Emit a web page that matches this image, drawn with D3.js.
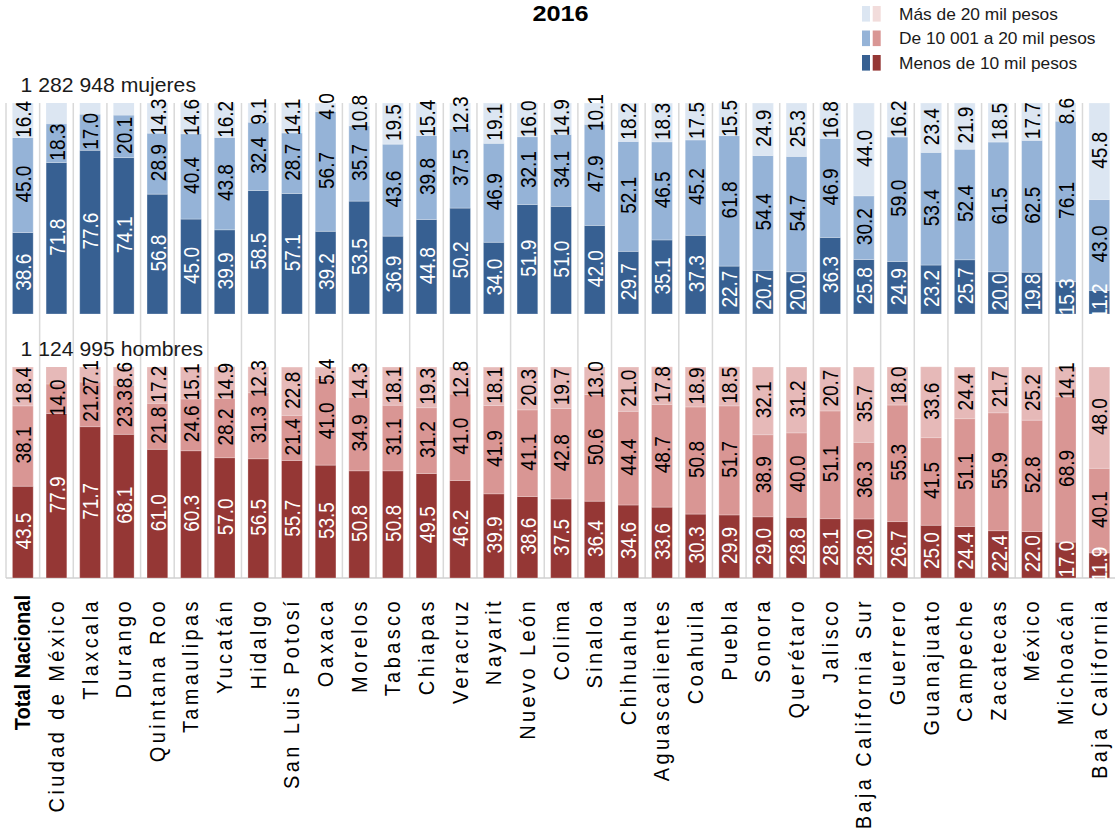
<!DOCTYPE html>
<html><head><meta charset="utf-8">
<script src="https://cdn.jsdelivr.net/npm/d3@7"></script>
<style>
body{margin:0;background:#fff}
svg{display:block;font-family:"Liberation Sans",Arial,sans-serif}
</style>
</head><body>
<svg id="c" width="1115" height="830"></svg>
<script>
const title = "2016";
const categories = ["Total Nacional","Ciudad de México","Tlaxcala","Durango","Quintana Roo","Tamaulipas","Yucatán","Hidalgo","San Luis Potosí","Oaxaca","Morelos","Tabasco","Chiapas","Veracruz","Nayarit","Nuevo León","Colima","Sinaloa","Chihuahua","Aguascalientes","Coahuila","Puebla","Sonora","Querétaro","Jalisco","Baja California Sur","Guerrero","Guanajuato","Campeche","Zacatecas","México","Michoacán","Baja California"];
// Mujeres
const mujeresMenos10 = [38.6,71.8,77.6,74.1,56.8,45.0,39.9,58.5,57.1,39.2,53.5,36.9,44.8,50.2,34.0,51.9,51.0,42.0,29.7,35.1,37.3,22.7,20.7,20.0,36.3,25.8,24.9,23.2,25.7,20.0,19.8,15.3,11.2];
const mujeres10a20 = [45.0,18.3,17.0,20.1,28.9,40.4,43.8,32.4,28.7,56.7,35.7,43.6,39.8,37.5,46.9,32.1,34.1,47.9,52.1,46.5,45.2,61.8,54.4,54.7,46.9,30.2,59.0,53.4,52.4,61.5,62.5,76.1,43.0];
const mujeresMas20 = [16.4,null,null,null,14.3,14.6,16.2,9.1,14.1,4.0,10.8,19.5,15.4,12.3,19.1,16.0,14.9,10.1,18.2,18.3,17.5,15.5,24.9,25.3,16.8,44.0,16.2,23.4,21.9,18.5,17.7,8.6,45.8];
// Hombres
const hombresMenos10 = [43.5,77.9,71.7,68.1,61.0,60.3,57.0,56.5,55.7,53.5,50.8,50.8,49.5,46.2,39.9,38.6,37.5,36.4,34.6,33.6,30.3,29.9,29.0,28.8,28.1,28.0,26.7,25.0,24.4,22.4,22.0,17.0,11.9];
const hombres10a20 = [38.1,14.0,21.2,23.3,21.8,24.6,28.2,31.3,21.4,41.0,34.9,31.1,31.2,41.0,41.9,41.1,42.8,50.6,44.4,48.7,50.8,51.7,38.9,40.0,51.1,36.3,55.3,41.5,51.1,55.9,52.8,68.9,40.1];
const hombresMas20 = [18.4,null,7.1,8.6,17.2,15.1,14.9,12.3,22.8,5.4,14.3,18.1,19.3,12.8,18.1,20.3,19.7,13.0,21.0,17.8,18.9,18.5,32.1,31.2,20.7,35.7,18.0,33.6,24.4,21.7,25.2,14.1,48.0];
const legendLabels = ["Más de 20 mil pesos","De 10 001 a 20 mil pesos","Menos de 10 mil pesos"];
const panelTitles = ["1 282 948 mujeres","1 124 995 hombres"];

const blues = ["#376092","#95b3d7","#dce6f2"];
const reds  = ["#953735","#d99694","#e6b9b8"];
const legendReds = ["#953735","#d99694","#f2dcdb"];

const svg = d3.select("#c");
const W = 1115;
const x = d3.scaleBand().domain(categories).range([6, 6 + 33*33.64]).padding(0);
const barW = 20.7;
const cx = d => x(d) + x.bandwidth()/2;

const panels = [
  {low:mujeresMenos10, mid:mujeres10a20, high:mujeresMas20, colors:blues, y:d3.scaleLinear().domain([0,100]).range([314,103]), title:panelTitles[0], titleY:91.5, clipTop:0},
  {low:hombresMenos10, mid:hombres10a20, high:hombresMas20, colors:reds, y:d3.scaleLinear().domain([0,100]).range([578,367]), title:panelTitles[1], titleY:356, clipTop:330}
];

// vertical separators
svg.append("g").selectAll("line").data(categories).join("line")
  .attr("x1", d => x(d)).attr("x2", d => x(d))
  .attr("y1", panels[0].y(100)).attr("y2", panels[1].y(0))
  .attr("stroke", "#d9d9d9").attr("stroke-width", 1.5);

// axis baseline
svg.append("line").attr("x1", 6).attr("x2", W).attr("y1", panels[1].y(0)).attr("y2", panels[1].y(0))
  .attr("stroke", "#d0d0d0").attr("stroke-width", 1.5);

const defs = svg.append("defs");

panels.forEach((p, pi) => {
  const g = svg.append("g");
  const y = p.y;
  // background (full column in lightest colour)
  g.selectAll("rect.bg").data(categories).join("rect").attr("class","bg")
    .attr("x", d => cx(d) - barW/2).attr("width", barW)
    .attr("y", y(100)).attr("height", y(0) - y(100))
    .attr("fill", p.colors[2]);
  const segs = [];
  categories.forEach((c, i) => {
    const vals = [p.low[i], p.mid[i], p.high[i]];
    let acc = 0;
    vals.forEach((v, k) => {
      if (v == null) return;
      segs.push({c, k, v, y0: acc, y1: acc + v});
      acc += v;
    });
  });
  g.selectAll("rect.seg").data(segs).join("rect").attr("class","seg")
    .attr("x", d => cx(d.c) - barW/2).attr("width", barW)
    .attr("y", d => y(d.y1)).attr("height", d => y(d.y0) - y(d.y1))
    .attr("fill", d => p.colors[d.k])
    .attr("stroke", "rgba(255,255,255,0.35)").attr("stroke-width", 0.8);

  const clipId = "clip" + pi;
  defs.append("clipPath").attr("id", clipId).append("rect")
    .attr("x", 0).attr("width", W).attr("y", p.clipTop).attr("height", y(0) - p.clipTop + 1);

  g.append("g").attr("clip-path", `url(#${clipId})`)
    .selectAll("text").data(segs).join("text")
    .attr("transform", d => `translate(${cx(d.c)},${(y(d.y0)+y(d.y1))/2 - 1}) rotate(-90) scale(1,1.19)`)
    .attr("text-anchor", "middle").attr("dominant-baseline", "central")
    .attr("font-size", 19)
    .attr("fill", d => d.k === 0 ? "#ffffff" : "#000000")
    .text(d => d.v.toFixed(1));

  svg.append("text").attr("transform", `translate(20.5,${p.titleY}) scale(1.06,1)`)
    .attr("font-size", 20).attr("fill", "#1a1a1a").text(p.title);
});

// category labels
svg.append("g").selectAll("text").data(categories).join("text")
  .attr("transform", d => `translate(${cx(d)},${d === "Total Nacional" ? 595 : 598}) rotate(-90) scale(1,1.14)`)
  .attr("text-anchor", "end").attr("dominant-baseline", "central")
  .attr("font-size", 20)
  .attr("font-weight", d => d === "Total Nacional" ? "bold" : "normal")
  .attr("letter-spacing", d => d === "Total Nacional" ? 0 : 3.4)
  .attr("fill", "#000")
  .text(d => d);

// title
svg.append("text").attr("transform", "translate(560.5,20.5) scale(1.15,1)")
  .attr("text-anchor", "middle").attr("font-size", 22).attr("font-weight", "bold")
  .attr("fill", "#000").text(title);

// legend
const lg = svg.append("g");
const rowY = d3.scalePoint().domain(legendLabels).range([13.8, 62.8]);
lg.selectAll("rect.b").data(legendLabels).join("rect").attr("class","b")
  .attr("x", 862).attr("width", 8).attr("y", d => rowY(d) - 7.8).attr("height", 15.6)
  .attr("fill", (d, i) => blues[2 - i]);
lg.selectAll("rect.r").data(legendLabels).join("rect").attr("class","r")
  .attr("x", 872.7).attr("width", 8).attr("y", d => rowY(d) - 7.8).attr("height", 15.6)
  .attr("fill", (d, i) => legendReds[2 - i]);
lg.selectAll("text").data(legendLabels).join("text")
  .attr("transform", d => `translate(899,${rowY(d)}) scale(1.02,1)`)
  .attr("dominant-baseline", "central").attr("font-size", 17).attr("fill", "#1a1a1a")
  .text(d => d);
</script>
</body></html>
